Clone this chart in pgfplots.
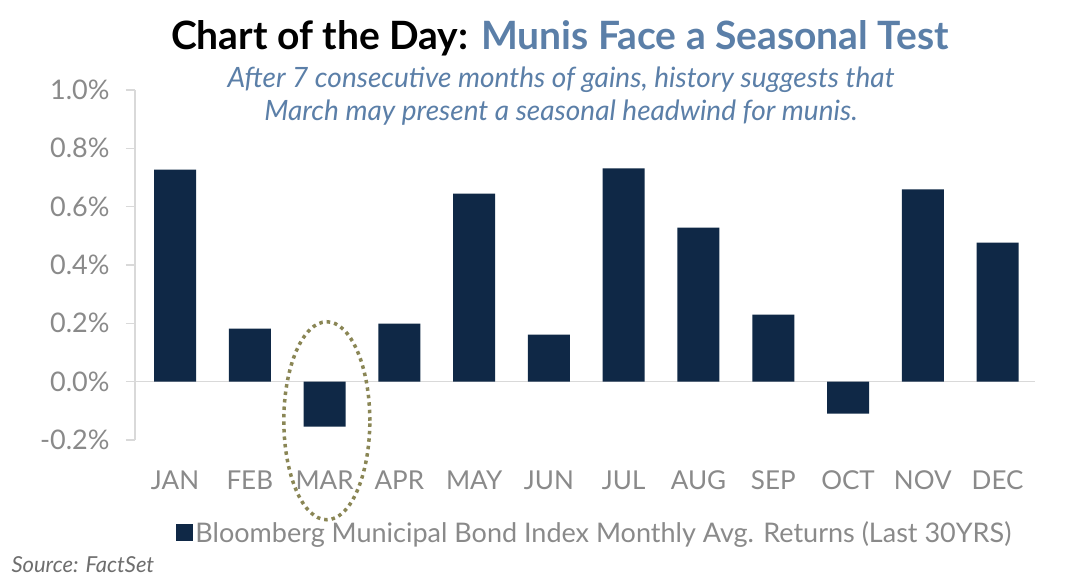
\documentclass[border=0pt]{standalone}
\usepackage{fontspec}
\setmainfont{Lato}
\usepackage{pgfplots}
\pgfplotsset{compat=1.18}
\definecolor{navy}{HTML}{0F2846}
\definecolor{steel}{HTML}{5B7FA8}
\definecolor{tickgray}{HTML}{8A8A8A}
\definecolor{linegray}{HTML}{D9D9D9}
\definecolor{olive}{HTML}{8A8655}
\begin{document}
\begin{tikzpicture}
\path[use as bounding box, fill=white] (0,0) rectangle (1079pt,586pt);
\begin{axis}[
  at={(135pt,146pt)}, anchor=south west,
  scale only axis, width=900pt, height=350pt,
  xmin=-0.535, xmax=11.5, ymin=-0.2, ymax=1.0,
  axis lines*=left,
  x axis line style={draw=none},
  y axis line style={linegray, line width=1.5pt},
  ytick={-0.2,0,0.2,0.4,0.6,0.8,1.0},
  ytick style={linegray, line width=1.5pt},
  tick align=outside, major tick length=9pt,
  xtick={0,...,11}, xtick style={draw=none},
  xticklabels={JAN,FEB,MAR,APR,MAY,JUN,JUL,AUG,SEP,OCT,NOV,DEC},
  xticklabel style={yshift=-18pt, font=\fontsize{26}{26}\selectfont},
  yticklabel style={xshift=-13pt, font=\fontsize{27}{27}\selectfont},
  /pgf/number format/assume math mode=true,
  yticklabel={\pgfmathprintnumber[fixed,fixed zerofill,precision=1]{\tick}\%},
  tick label style={text=tickgray},
  ybar, bar width=42pt, bar shift=0pt,
  clip=false,
  legend style={at={(0.511,-0.266)}, anchor=center, draw=none, fill=none,
    font=\fontsize{27}{27}\selectfont, text=tickgray},
  legend image code/.code={\fill[navy] (-5pt,-8pt) rectangle (12pt,9pt);},
]
\draw[linegray, line width=1.5pt] (axis cs:-0.535,0) -- (axis cs:11.5,0);
\addplot[fill=navy, draw=none] coordinates {
  (0,0.727) (1,0.182) (2,-0.154) (3,0.199) (4,0.645) (5,0.161)
  (6,0.731) (7,0.528) (8,0.230) (9,-0.110) (10,0.659) (11,0.477)
};
\addlegendentry{Bloomberg Municipal Bond Index Monthly Avg. Returns (Last 30YRS)}
\draw[olive, line width=3.5pt, dash pattern=on 3.5pt off 4pt]
  (axis cs:2.03,-0.134) ellipse [x radius=43pt, y radius=99pt];
\end{axis}
\node[font=\fontsize{39}{39}\selectfont\bfseries] at (560pt,548pt)
  {Chart of the Day: \textcolor{steel}{Munis Face a Seasonal Test}};
\node[font=\fontsize{28}{33}\selectfont\itshape, text=steel, align=center] at (561pt,490pt)
  {After 7 consecutive months of gains, history suggests that\\March may present a seasonal headwind for munis.};
\node[font=\fontsize{22}{22}\selectfont\itshape, text=tickgray!80!black, anchor=west] at (8pt,21pt)
  {Source: FactSet};
\end{tikzpicture}
\end{document}
